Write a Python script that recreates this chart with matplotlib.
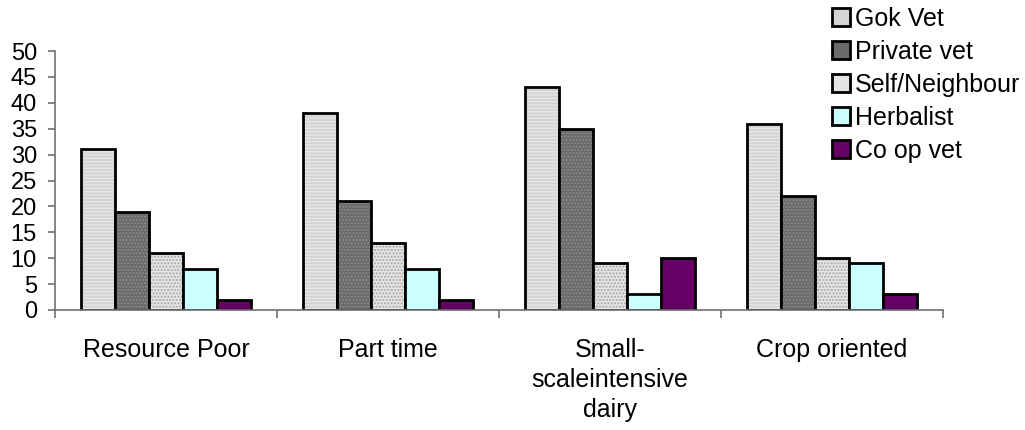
import numpy as np
import matplotlib
matplotlib.use('Agg')
import matplotlib.pyplot as plt

plt.rcParams['font.family'] = ['Liberation Sans', 'DejaVu Sans']

categories = ['Resource Poor', 'Part time', 'Small-\nscaleintensive\ndairy', 'Crop oriented']
series = ['Gok Vet', 'Private vet', 'Self/Neighbour', 'Herbalist', 'Co op vet']
gok_vet = [31, 38, 43, 36]
private_vet = [19, 21, 35, 22]
self_neighbour = [11, 13, 9, 10]
herbalist = [8, 8, 3, 9]
co_op_vet = [2, 2, 10, 3]
values = [gok_vet, private_vet, self_neighbour, herbalist, co_op_vet]

# fill, hatch pattern, hatch colour for each source
styles = [
    ('#d4d4d4', '-----', '#e6e6e6'),
    ('#6a6a6a', '.....', '#8a8a8a'),
    ('#e4e4e4', '.....', '#a8a8a8'),
    ('#ccffff', None, None),
    ('#660066', None, None),
]

fig = plt.figure(figsize=(10.25, 4.3), dpi=100)
ax = fig.add_axes([55 / 1025, 1 - 310 / 430, 888 / 1025, 259 / 430])

x = np.arange(len(categories))
width = 0.153
for i, (vals, (fc, hatch, hc)) in enumerate(zip(values, styles)):
    pos = x - 2 * width + i * width
    if hatch:
        ax.bar(pos, vals, width, color=fc, hatch=hatch, edgecolor=hc, linewidth=0)
        ax.bar(pos, vals, width, facecolor='none', edgecolor='black', linewidth=2)
    else:
        ax.bar(pos, vals, width, color=fc, edgecolor='black', linewidth=2)

# legend boxes with the same fills
handles = []
for (fc, hatch, hc), name in zip(styles, series):
    handles.append(plt.Rectangle((0, 0), 1, 1, facecolor=fc, edgecolor='black',
                                 linewidth=2, label=name))
fig.legend(handles=handles, loc='upper left', bbox_to_anchor=(832 / 1025, 1 - 7 / 430),
           frameon=False, fontsize=18, handlelength=0.72, handleheight=0.72,
           handletextpad=0.2, labelspacing=0.36, borderaxespad=0, borderpad=0)

ax.set_xlim(-0.5, 3.5)
ax.set_ylim(0, 50)
ax.set_yticks(range(0, 51, 5))
ax.set_xticks(x)
ax.set_xticklabels(categories, fontsize=18, linespacing=1.31)
ax.set_xticks(np.arange(-0.5, 4.0, 1.0), minor=True)
ax.tick_params(axis='x', which='major', length=0, pad=20.5)
ax.tick_params(axis='x', which='minor', length=6, color='#707070', width=1.2)
ax.tick_params(axis='y', labelsize=17, length=5, color='#707070', width=1.2, pad=8)

for s in ['top', 'right']:
    ax.spines[s].set_visible(False)
for s in ['left', 'bottom']:
    ax.spines[s].set_color('#707070')
    ax.spines[s].set_linewidth(1.2)

fig.savefig('out.png', dpi=100)
